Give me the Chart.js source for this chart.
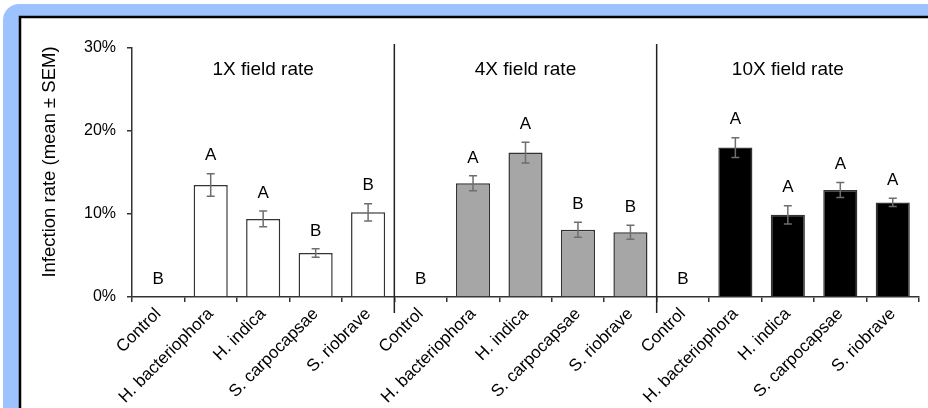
<!DOCTYPE html>
<html>
<head>
<meta charset="utf-8">
<script src="https://cdn.jsdelivr.net/npm/chart.js@4"></script>
<style>
  html, body { margin: 0; padding: 0; background: #fff; overflow: hidden; }
  #wrap { width: 928px; height: 408px; position: relative; }
  canvas { display: block; }
</style>
</head>
<body>
<div id="wrap"><canvas id="infectionChart"></canvas></div>
<script>
const categories = ['Control', 'H. bacteriophora', 'H. indica', 'S. carpocapsae', 'S. riobrave'];
const rates = ['1X field rate', '4X field rate', '10X field rate'];
const rateColors = ['#ffffff', '#a6a6a6', '#000000'];

const means1X = [0, 13.5, 9.4, 5.3, 10.2];
const sem1X = [0, 1.35, 0.95, 0.5, 1.05];
const letters1X = ['B', 'A', 'A', 'B', 'B'];

const means4X = [0, 13.7, 17.4, 8.1, 7.8];
const sem4X = [0, 0.9, 1.25, 0.9, 0.85];
const letters4X = ['B', 'A', 'A', 'B', 'B'];

const means10X = [0, 18.0, 9.9, 12.9, 11.4];
const sem10X = [0, 1.2, 1.1, 0.9, 0.5];
const letters10X = ['B', 'A', 'A', 'A', 'A'];

const yTicks = [0, 10, 20, 30];

const FONT = "'Liberation Sans', Arial, sans-serif";

// flatten the three panels into one category axis
const labels = [].concat(categories, categories, categories);
const means = [].concat(means1X, means4X, means10X);
const sems = [].concat(sem1X, sem4X, sem10X);
const letters = [].concat(letters1X, letters4X, letters10X);
const colors = labels.map((_, i) => rateColors[Math.floor(i / categories.length)]);

const framePlugin = {
    id: 'frame',
    beforeDraw(chart) {
        const ctx = chart.ctx;
        ctx.save();
        ctx.fillStyle = '#ffffff';
        ctx.fillRect(0, 0, 928, 408);
        ctx.fillStyle = '#9cc2ff';
        ctx.beginPath();
        ctx.roundRect(3, 4, 960, 440, 16);
        ctx.fill();
        ctx.fillStyle = '#ffffff';
        ctx.fillRect(20, 17, 960, 440);
        ctx.strokeStyle = '#000000';
        ctx.lineWidth = 2.5;
        ctx.beginPath();
        ctx.moveTo(20, 420);
        ctx.lineTo(20, 17);
        ctx.lineTo(940, 17);
        ctx.stroke();
        ctx.restore();
    }
};

const annotatePlugin = {
    id: 'annotate',
    afterDatasetsDraw(chart) {
        const ctx = chart.ctx;
        const x = chart.scales.x;
        const y = chart.scales.y;
        const n = categories.length;
        ctx.save();

        // panel separators
        ctx.strokeStyle = '#222';
        ctx.lineWidth = 1.5;
        for (let p = 1; p < rates.length; p++) {
            const sx = (x.getPixelForValue(p * n - 1) + x.getPixelForValue(p * n)) / 2;
            ctx.beginPath();
            ctx.moveTo(sx, 44);
            ctx.lineTo(sx, 313);
            ctx.stroke();
        }

        // error bars and letters
        ctx.strokeStyle = '#6e6e6e';
        ctx.lineWidth = 1.5;
        ctx.fillStyle = '#000';
        ctx.font = '17px ' + FONT;
        ctx.textAlign = 'center';
        ctx.textBaseline = 'middle';
        means.forEach((m, i) => {
            const cx = x.getPixelForValue(i);
            const top = y.getPixelForValue(m + sems[i]);
            if (sems[i] > 0) {
                const bot = y.getPixelForValue(m - sems[i]);
                ctx.beginPath();
                ctx.moveTo(cx, top); ctx.lineTo(cx, bot);
                ctx.moveTo(cx - 4, top); ctx.lineTo(cx + 4, top);
                ctx.moveTo(cx - 4, bot); ctx.lineTo(cx + 4, bot);
                ctx.stroke();
            }
            ctx.fillText(letters[i], cx, top - 18);
        });

        // panel titles
        ctx.font = '19px ' + FONT;
        rates.forEach((r, p) => {
            const x0 = (x.getPixelForValue(p * n) + x.getPixelForValue(p * n - 1)) / 2;
            const x1 = (x.getPixelForValue(p * n + n - 1) + x.getPixelForValue(p * n + n)) / 2;
            ctx.fillText(r, (x0 + x1) / 2, 70);
        });

        // y axis title
        ctx.font = '18.5px ' + FONT;
        ctx.translate(50, 162);
        ctx.rotate(-Math.PI / 2);
        ctx.fillText('Infection rate (mean \u00b1 SEM)', 0, 0);
        ctx.restore();
    }
};

new Chart(document.getElementById('infectionChart'), {
    type: 'bar',
    data: {
        labels: labels,
        datasets: [{
            data: means,
            backgroundColor: colors,
            borderColor: '#333',
            borderWidth: 1.5,
            borderSkipped: 'start',
            barPercentage: 0.65,
            categoryPercentage: 1
        }]
    },
    options: {
        responsive: true,
        maintainAspectRatio: false,
        animation: false,
        layout: { padding: { top: 48, right: 9, left: 0, bottom: 0 } },
        plugins: { legend: { display: false }, tooltip: { enabled: false } },
        scales: {
            x: {
                afterFit: s => { s.height = 111; },
                grid: { offset: true, drawOnChartArea: false, drawTicks: true, tickLength: 5, color: '#333', lineWidth: 1.5 },
                border: { display: true, color: '#333', width: 1.5 },
                ticks: {
                    autoSkip: false, maxRotation: 45, minRotation: 45, padding: 2,
                    color: '#000', font: { family: FONT, size: 17 }
                }
            },
            y: {
                min: 0, max: 30,
                afterFit: s => { s.width = 132; },
                afterBuildTicks: s => { s.ticks = yTicks.map(v => ({ value: v })); },
                grid: { drawOnChartArea: false, drawTicks: true, tickLength: 5, color: '#333', lineWidth: 1.5 },
                border: { display: true, color: '#333', width: 1.5 },
                ticks: {
                    padding: 11, color: '#000', font: { family: FONT, size: 16 },
                    callback: v => v + '%'
                }
            }
        }
    },
    plugins: [framePlugin, annotatePlugin]
});
</script>
</body>
</html>
